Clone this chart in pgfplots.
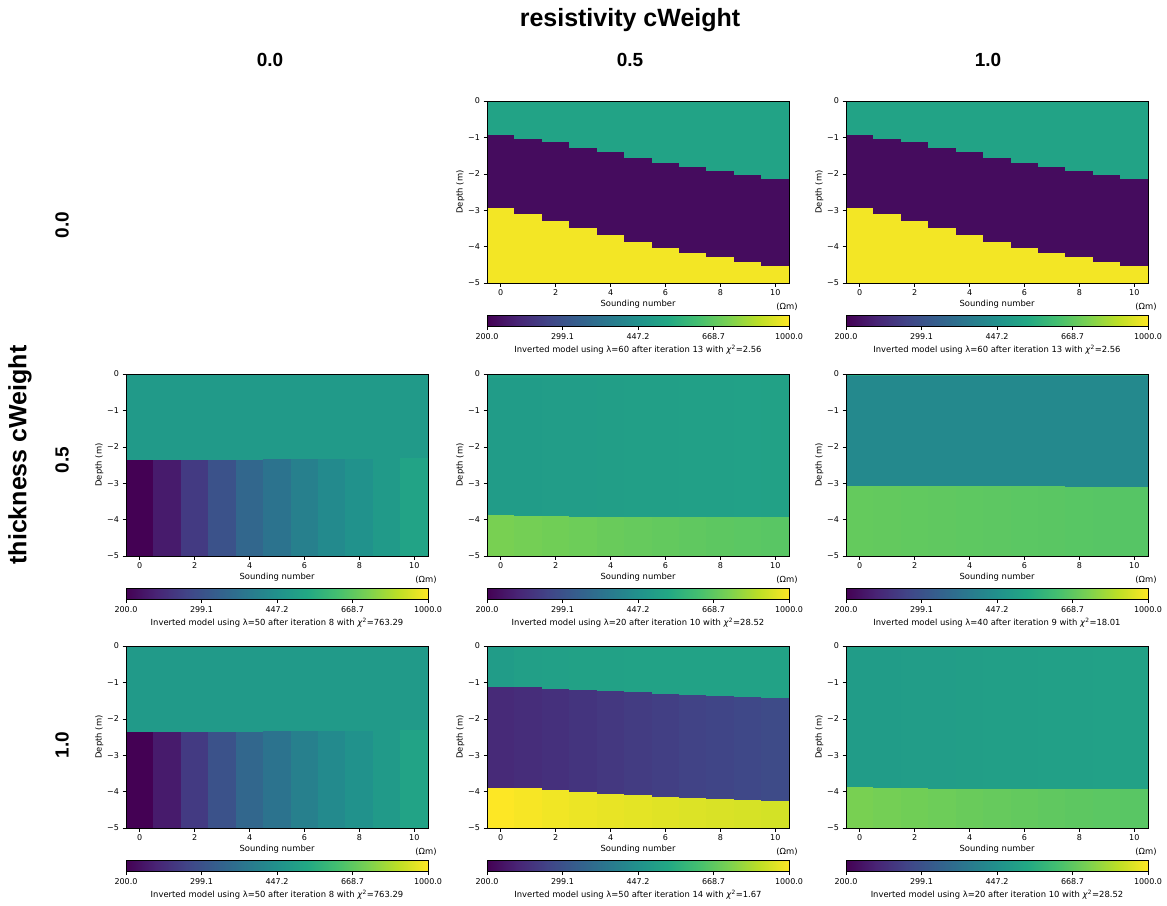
\documentclass[border=0pt]{standalone}
\usepackage{fontspec}
\setmainfont{DejaVu Sans}
\newfontfamily\titlefont{Liberation Sans}
\usepackage{pgfplots}
\usepackage{pgfplotstable}
\pgfplotsset{compat=1.18}
\usepgfplotslibrary{patchplots}

\pgfplotsset{colormap={myviridis}{
  rgb255=(68,1,84) rgb255=(72,36,117) rgb255=(65,68,135) rgb255=(53,95,141)
  rgb255=(42,120,142) rgb255=(33,145,140) rgb255=(34,168,132) rgb255=(68,191,112)
  rgb255=(122,209,81) rgb255=(189,223,38) rgb255=(253,231,37)}}

% x: sounding, b1/b2: layer boundaries (m), r1..r3: resistivities (Ohm m)
\pgfplotstableread{
x b1 b2 r1 r2 r3
0 -0.95 -2.95 506 210 975
1 -1.04 -3.11 506 210 975
2 -1.14 -3.29 506 210 975
3 -1.29 -3.49 506 210 975
4 -1.42 -3.69 506 210 975
5 -1.57 -3.87 506 210 975
6 -1.71 -4.04 506 210 975
7 -1.82 -4.19 506 210 975
8 -1.93 -4.30 506 210 975
9 -2.03 -4.43 506 210 975
10 -2.14 -4.55 506 210 975
}\tabA
\pgfplotstableread{
x b1 b2 r1 r2 r3
0 -0.10 -2.37 477 477 200
1 -0.10 -2.37 477 477 225
2 -0.10 -2.36 477 477 263
3 -0.10 -2.36 477 477 300
4 -0.10 -2.36 477 477 341
5 -0.10 -2.35 477 477 368
6 -0.10 -2.35 477 477 400
7 -0.10 -2.34 477 477 428
8 -0.10 -2.34 477 477 450
9 -0.10 -2.33 477 477 478
10 -0.10 -2.32 477 477 508
}\tabB
\pgfplotstableread{
x b1 b2 r1 r2 r3
0 -0.12 -3.89 500 482 720
1 -0.12 -3.91 500 484 712
2 -0.12 -3.91 500 486 705
3 -0.12 -3.93 500 488 697
4 -0.12 -3.93 500 490 690
5 -0.12 -3.93 500 492 683
6 -0.12 -3.93 500 494 677
7 -0.12 -3.93 500 496 671
8 -0.12 -3.93 500 498 666
9 -0.12 -3.93 500 499 662
10 -0.12 -3.93 500 500 658
}\tabC
\pgfplotstableread{
x b1 b2 r1 r2 r3
0 -0.07 -3.09 513 425 680
1 -0.07 -3.09 513 425 677
2 -0.07 -3.09 513 425 674
3 -0.07 -3.09 513 425 671
4 -0.07 -3.09 513 425 668
5 -0.07 -3.09 513 425 665
6 -0.07 -3.09 513 425 662
7 -0.07 -3.09 513 425 659
8 -0.07 -3.10 513 425 656
9 -0.07 -3.10 513 425 654
10 -0.07 -3.10 513 425 652
}\tabD
\pgfplotstableread{
x b1 b2 r1 r2 r3
0 -1.13 -3.90 485 242 1000
1 -1.14 -3.92 492 246 985
2 -1.18 -3.96 498 250 972
3 -1.21 -4.01 500 255 960
4 -1.24 -4.06 502 260 950
5 -1.28 -4.11 503 265 940
6 -1.32 -4.14 503 269 930
7 -1.36 -4.18 504 274 922
8 -1.39 -4.21 504 278 914
9 -1.41 -4.23 505 283 907
10 -1.43 -4.25 505 287 900
}\tabE

\newcommand\drawmodel[1]{%
  \gdef\coordlist{}%
  \pgfplotstablegetrowsof{#1}%
  \pgfmathtruncatemacro\lastrow{\pgfplotsretval-1}%
  \pgfplotsforeachungrouped \i in {0,...,\lastrow}{%
    \pgfplotstablegetelem{\i}{x}\of{#1}%
    \pgfmathsetmacro\xl{\pgfplotsretval-0.5}%
    \pgfmathsetmacro\xr{\pgfplotsretval+0.5}%
    \pgfplotstablegetelem{\i}{b1}\of{#1}\let\bA\pgfplotsretval
    \pgfplotstablegetelem{\i}{b2}\of{#1}\let\bB\pgfplotsretval
    \pgfplotstablegetelem{\i}{r1}\of{#1}\pgfmathsetmacro\mA{log10(\pgfplotsretval)}%
    \pgfplotstablegetelem{\i}{r2}\of{#1}\pgfmathsetmacro\mB{log10(\pgfplotsretval)}%
    \pgfplotstablegetelem{\i}{r3}\of{#1}\pgfmathsetmacro\mC{log10(\pgfplotsretval)}%
    \xdef\coordlist{\coordlist
      (\xl,0) [\mA] (\xr,0) [\mA] (\xr,\bA) [\mA] (\xl,\bA) [\mA]
      (\xl,\bA) [\mB] (\xr,\bA) [\mB] (\xr,\bB) [\mB] (\xl,\bB) [\mB]
      (\xl,\bB) [\mC] (\xr,\bB) [\mC] (\xr,-5) [\mC] (\xl,-5) [\mC]}%
  }%
  \edef\temp{\noexpand\addplot[patch, patch type=rectangle, point meta=explicit,
     shader=faceted, faceted color=mapped color] coordinates {\coordlist};}%
  \temp
}

\newcommand\tfont{\fontsize{8}{10}\selectfont}
\newcommand\lfont{\fontsize{8.4}{10}\selectfont}
\newcommand\cfont{\fontsize{8.4}{10}\selectfont}

\pgfplotsset{
  modelaxis/.style={
    width=302pt, height=182pt, scale only axis, anchor=north west,
    xmin=-0.5, xmax=10.5, ymin=-5, ymax=0,
    xtick={0,2,4,6,8,10}, xticklabels={0,2,4,6,8,10},
    ytick={-5,-4,-3,-2,-1,0}, yticklabels={−5,−4,−3,−2,−1,0},
    xtick pos=left, ytick pos=left,
    tick align=outside, major tick length=3.5pt,
    tick style={black, line width=0.6pt},
    axis line style={black, line width=0.7pt},
    tick label style={font=\tfont},
    label style={font=\lfont},
    xlabel={Sounding number}, ylabel={Depth (m)},
    xlabel style={yshift=3pt},
    ylabel style={yshift=-3pt},
    axis on top,
    colormap name=myviridis,
    point meta min=2.30103, point meta max=3,
    colorbar horizontal,
    colorbar style={
      at={(parent axis.south west)}, anchor=north west, yshift=-24pt,
      width=302pt, height=11pt, scale only axis,
      xtick={2.30103,2.47577,2.65052,2.82526,3},
      xticklabels={200.0,299.1,447.2,668.7,1000.0},
      xtick pos=left, xticklabel pos=left,
      tick align=outside, major tick length=3.5pt,
      tick style={black, line width=0.6pt},
      axis line style={black, line width=0.7pt},
      tick label style={font=\tfont},
      ytick=\empty,
    },
  },
  cap/.style={
    extra description/.code={
      \node[font=\cfont] at (axis description cs:0.5,-0.368) {#1};
      \node[font=\lfont, anchor=east] at (axis description cs:1.04,-0.132) {(Ωm)};
    }
  },
}

\begin{document}
\begin{tikzpicture}
\useasboundingbox (0,0) rectangle (1167pt,-905pt);

\node[font=\titlefont\bfseries\fontsize{25}{28}\selectfont] at (630pt,-20pt) {resistivity cWeight};
\node[font=\titlefont\bfseries\fontsize{19}{22}\selectfont] at (270pt,-60pt) {0.0};
\node[font=\titlefont\bfseries\fontsize{19}{22}\selectfont] at (630pt,-60pt) {0.5};
\node[font=\titlefont\bfseries\fontsize{19}{22}\selectfont] at (988pt,-60pt) {1.0};
\node[font=\titlefont\bfseries\fontsize{25}{28}\selectfont, rotate=90] at (20pt,-455pt) {thickness cWeight};
\node[font=\titlefont\bfseries\fontsize{19}{22}\selectfont, rotate=90] at (62pt,-225pt) {0.0};
\node[font=\titlefont\bfseries\fontsize{19}{22}\selectfont, rotate=90] at (62pt,-460pt) {0.5};
\node[font=\titlefont\bfseries\fontsize{19}{22}\selectfont, rotate=90] at (62pt,-745pt) {1.0};

\begin{axis}[modelaxis, at={(487pt,-101pt)},
  cap={Inverted model using λ=60 after iteration 13 with \textit{χ}\textsuperscript{2}=2.56}]
\drawmodel{\tabA}
\end{axis}
\begin{axis}[modelaxis, at={(846pt,-101pt)},
  cap={Inverted model using λ=60 after iteration 13 with \textit{χ}\textsuperscript{2}=2.56}]
\drawmodel{\tabA}
\end{axis}

\begin{axis}[modelaxis, at={(126pt,-374pt)},
  cap={Inverted model using λ=50 after iteration 8 with \textit{χ}\textsuperscript{2}=763.29}]
\drawmodel{\tabB}
\end{axis}
\begin{axis}[modelaxis, at={(487pt,-374pt)},
  cap={Inverted model using λ=20 after iteration 10 with \textit{χ}\textsuperscript{2}=28.52}]
\drawmodel{\tabC}
\end{axis}
\begin{axis}[modelaxis, at={(846pt,-374pt)},
  cap={Inverted model using λ=40 after iteration 9 with \textit{χ}\textsuperscript{2}=18.01}]
\drawmodel{\tabD}
\end{axis}

\begin{axis}[modelaxis, at={(126pt,-646pt)},
  cap={Inverted model using λ=50 after iteration 8 with \textit{χ}\textsuperscript{2}=763.29}]
\drawmodel{\tabB}
\end{axis}
\begin{axis}[modelaxis, at={(487pt,-646pt)},
  cap={Inverted model using λ=50 after iteration 14 with \textit{χ}\textsuperscript{2}=1.67}]
\drawmodel{\tabE}
\end{axis}
\begin{axis}[modelaxis, at={(846pt,-646pt)},
  cap={Inverted model using λ=20 after iteration 10 with \textit{χ}\textsuperscript{2}=28.52}]
\drawmodel{\tabC}
\end{axis}
\end{tikzpicture}
\end{document}
